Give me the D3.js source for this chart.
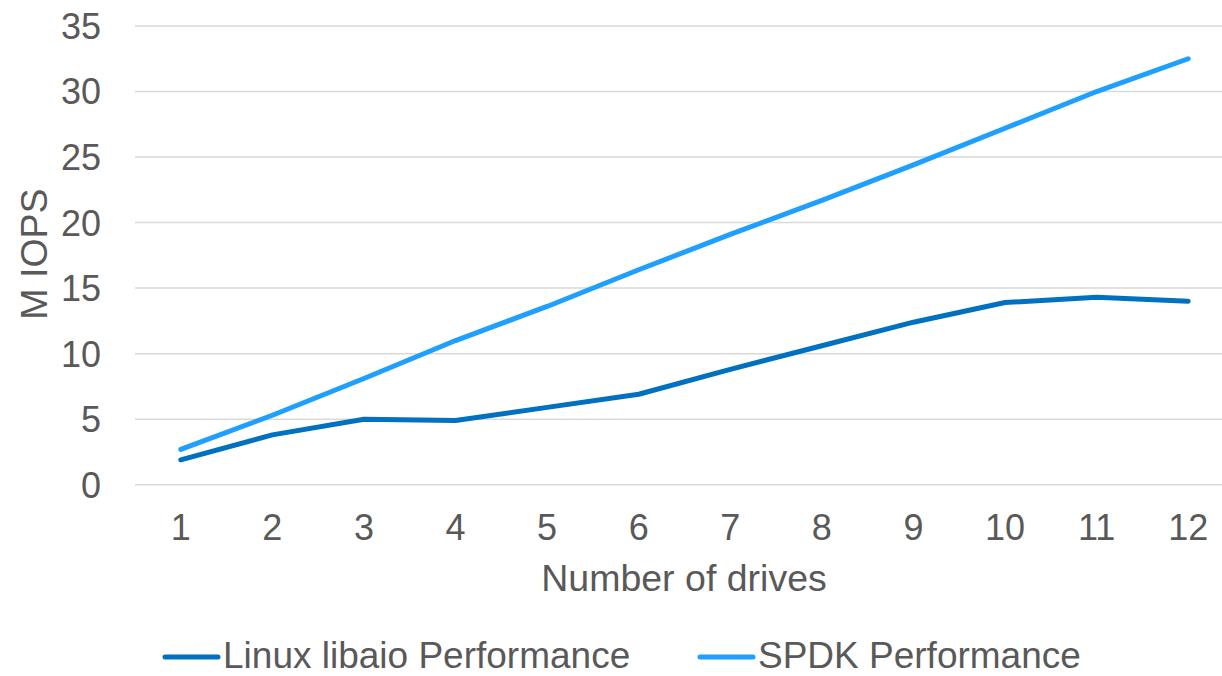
<!DOCTYPE html>
<html>
<head>
<meta charset="utf-8">
<script src="https://cdn.jsdelivr.net/npm/d3@7/dist/d3.min.js"></script>
<style>
  html, body { margin: 0; padding: 0; background: #fff; }
  svg { display: block; }
  text { font-family: "Liberation Sans", Arial, sans-serif; fill: #595959; }
</style>
</head>
<body>
<svg id="chart" width="1222" height="676"></svg>
<script>
const categories = ["1","2","3","4","5","6","7","8","9","10","11","12"];
const linuxValues = [1.9, 3.8, 5.0, 4.9, 5.9, 6.9, 8.8, 10.6, 12.4, 13.9, 14.3, 14.0];
const spdkValues = [2.7, 5.3, 8.1, 11.0, 13.6, 16.4, 19.1, 21.7, 24.4, 27.2, 30.0, 32.5];
const yTicks = [0, 5, 10, 15, 20, 25, 30, 35];
const seriesNames = ["Linux libaio Performance", "SPDK Performance"];
const seriesColors = ["#0070C0", "#1F9FFF"];
const xTitle = "Number of drives";
const yTitle = "M IOPS";

const svg = d3.select("#chart");
const x = d3.scalePoint().domain(categories).range([135, 1234]).padding(0.5);
const y = d3.scaleLinear().domain([0, 35]).range([484.7, 26]);

// gridlines
svg.append("g").selectAll("line").data(yTicks).join("line")
  .attr("x1", 135).attr("x2", 1234)
  .attr("y1", d => y(d)).attr("y2", d => y(d))
  .attr("stroke", "#D9D9D9").attr("stroke-width", 1.5);

// y tick labels
svg.append("g").selectAll("text").data(yTicks).join("text")
  .attr("x", 101).attr("y", d => y(d)).attr("dy", "0.36em")
  .attr("text-anchor", "end").attr("font-size", 36).text(d => d);

// x tick labels
svg.append("g").selectAll("text").data(categories).join("text")
  .attr("x", d => x(d)).attr("y", 540)
  .attr("text-anchor", "middle").attr("font-size", 36).text(d => d);

// axis titles
svg.append("text").attr("x", 684).attr("y", 591)
  .attr("text-anchor", "middle").attr("font-size", 37.5).text(xTitle);
svg.append("text").attr("transform", "translate(47,254) rotate(-90)")
  .attr("text-anchor", "middle").attr("font-size", 37.5).text(yTitle);

// lines
const line = d3.line().x((d, i) => x(categories[i])).y(d => y(d));
[linuxValues, spdkValues].forEach((vals, k) => {
  svg.append("path").datum(vals)
    .attr("d", line)
    .attr("fill", "none")
    .attr("stroke", seriesColors[k])
    .attr("stroke-width", 5)
    .attr("stroke-linecap", "round")
    .attr("stroke-linejoin", "round");
});

// legend
const legendX = [165, 700];
seriesNames.forEach((name, k) => {
  const g = svg.append("g");
  g.append("line").attr("x1", legendX[k]).attr("x2", legendX[k] + 53)
    .attr("y1", 657).attr("y2", 657)
    .attr("stroke", seriesColors[k]).attr("stroke-width", 5).attr("stroke-linecap", "round");
  g.append("text").attr("x", legendX[k] + 58).attr("y", 668)
    .attr("font-size", 37).text(name);
});
</script>
</body>
</html>
